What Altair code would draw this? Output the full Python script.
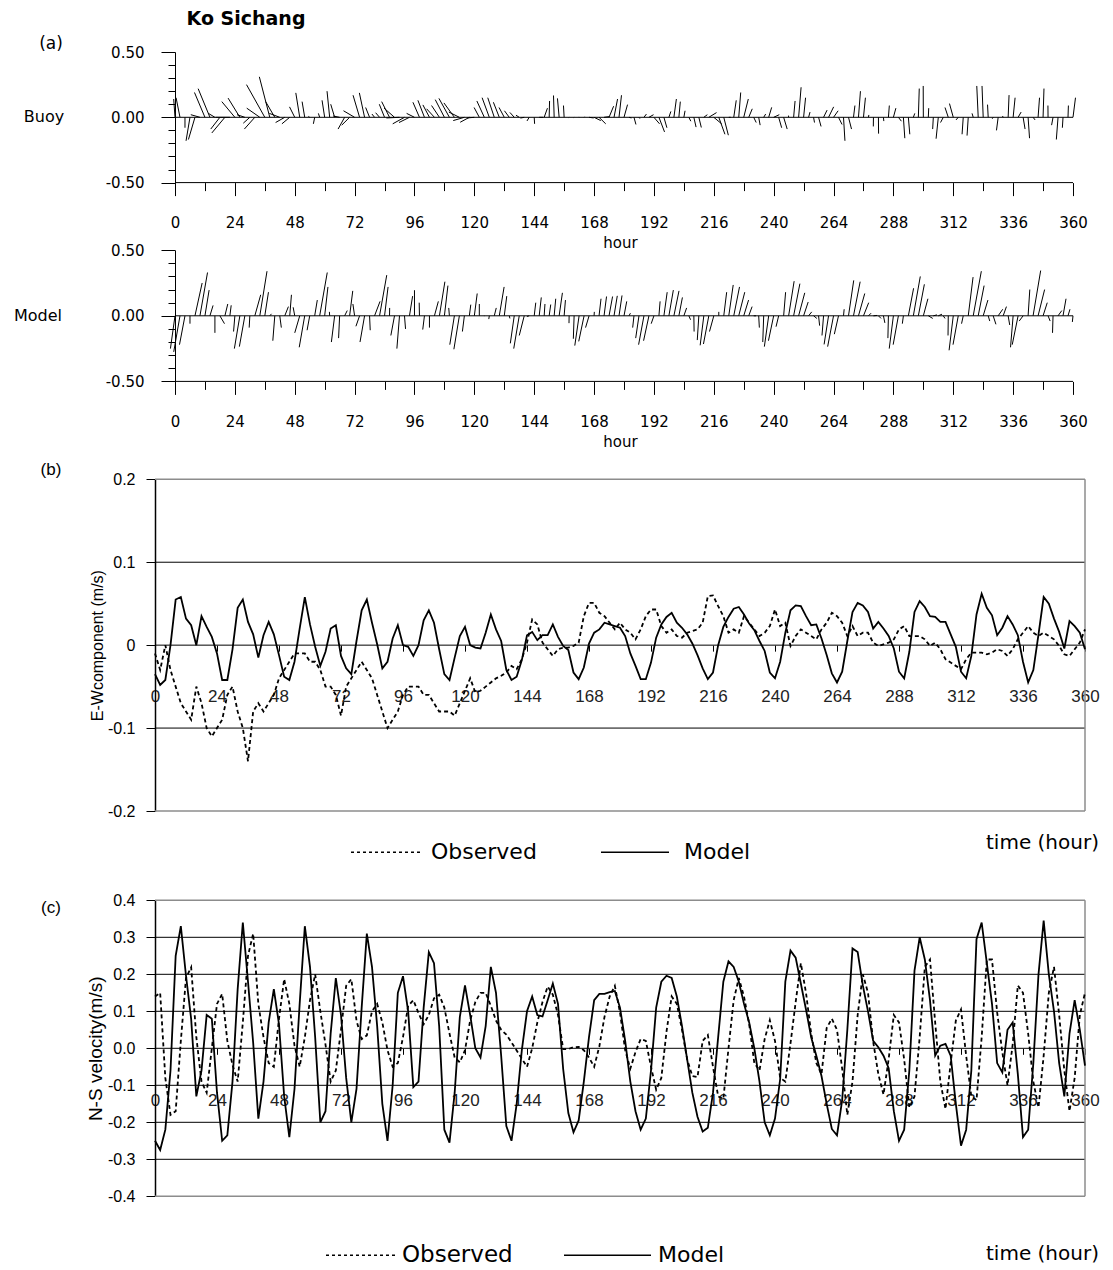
import altair as alt
import pandas as pd

# ---------------- data (2-hour steps) ----------------
hours = list(range(0, 361, 2))

mod_ew = [
    -0.035, -0.048, -0.042, 0.0, 0.055, 0.058, 0.032, 0.024, 0.0, 0.035,
    0.022, 0.01, -0.01, -0.042, -0.042, -0.005, 0.045, 0.055, 0.028, 0.013,
    -0.015, 0.012, 0.028, 0.013, -0.012, -0.038, -0.042, -0.02, 0.02, 0.058,
    0.025, -0.002, -0.025, -0.008, 0.02, 0.024, -0.013, -0.028, -0.035, 0.005,
    0.042, 0.055, 0.027, 0.001, -0.028, -0.02, 0.008, 0.024, 0.0, -0.002,
    -0.013, 0.0, 0.03, 0.042, 0.027, -0.005, -0.035, -0.042, -0.015, 0.011,
    0.022, 0.0, -0.003, -0.004, 0.015, 0.037, 0.019, 0.005, -0.03, -0.042,
    -0.038, -0.018, 0.012, 0.016, 0.006, 0.012, 0.012, 0.025, 0.01, -0.001,
    -0.006, -0.033, -0.041, -0.027, 0.002, 0.015, 0.019, 0.027, 0.025, 0.023,
    0.021, 0.011, -0.01, -0.025, -0.041, -0.041, -0.021, 0.009, 0.025, 0.034,
    0.039, 0.027, 0.021, 0.013, 0.002, -0.012, -0.028, -0.041, -0.033, 0.0,
    0.022, 0.034, 0.044, 0.046, 0.037, 0.026, 0.018, 0.005, -0.007, -0.033,
    -0.04, -0.02, 0.015, 0.042, 0.048, 0.047, 0.035, 0.024, 0.025, 0.008,
    -0.012, -0.034, -0.045, -0.032, 0.005, 0.04, 0.051, 0.048, 0.04, 0.02,
    0.028, 0.02, 0.011, -0.004, -0.032, -0.04, -0.008, 0.04, 0.053, 0.046,
    0.035, 0.034, 0.028, 0.028, 0.013, -0.002, -0.032, -0.04, -0.013, 0.037,
    0.062, 0.045, 0.036, 0.012, 0.021, 0.035, 0.025, 0.012, -0.02, -0.045,
    -0.03, 0.013, 0.058, 0.05, 0.032, 0.016, -0.004, 0.029, 0.023, 0.015,
    -0.005,
]

obs_ew = [
    -0.01, -0.03, 0.0, -0.03, -0.05, -0.07, -0.08, -0.09, -0.05, -0.07,
    -0.1, -0.11, -0.1, -0.09, -0.06, -0.05, -0.08, -0.1, -0.14, -0.08,
    -0.07, -0.08, -0.07, -0.06, -0.04, -0.03, -0.02, -0.01, -0.01, -0.01,
    -0.02, -0.02, -0.03, -0.05, -0.05, -0.06, -0.085, -0.05, -0.04, -0.03,
    -0.02, -0.03, -0.04, -0.06, -0.08, -0.1, -0.09, -0.08, -0.06, -0.05,
    -0.05, -0.05, -0.06, -0.06, -0.07, -0.08, -0.08, -0.08, -0.085, -0.07,
    -0.055, -0.04, -0.057, -0.055, -0.05, -0.045, -0.04, -0.037, -0.033, -0.025,
    -0.029, -0.017, 0.003, 0.031, 0.025, 0.003, -0.005, -0.013, -0.005, -0.003,
    -0.003, -0.001, 0.003, 0.035, 0.051, 0.051, 0.039, 0.035, 0.027, 0.019,
    0.027, 0.019, 0.015, 0.007, 0.019, 0.035, 0.043, 0.043, 0.023, 0.015,
    0.019, 0.011, 0.009, 0.015, 0.017, 0.019, 0.027, 0.059, 0.06, 0.047,
    0.035, 0.015, 0.019, 0.015, 0.035, 0.027, 0.019, 0.011, 0.015, 0.023,
    0.043, 0.023, 0.027, -0.001, 0.011, 0.019, 0.015, 0.011, 0.007, 0.019,
    0.027, 0.039, 0.035, 0.027, 0.011, 0.023, 0.011, 0.015, 0.015, 0.003,
    -0.001, 0.001, 0.003, 0.007, 0.019, 0.023, 0.011, 0.011, 0.011, 0.007,
    -0.001, 0.003, -0.005, -0.017, -0.021, -0.025, -0.029, -0.017, -0.009, -0.009,
    -0.009, -0.011, -0.009, -0.005, -0.007, -0.013, -0.005, 0.007, 0.015, 0.023,
    0.015, 0.011, 0.015, 0.011, 0.007, -0.001, -0.011, -0.013, -0.005, 0.003,
    0.019,
]

mod_ns = [
    -0.25, -0.275, -0.22, -0.06, 0.25, 0.33, 0.196, 0.079, -0.13, -0.06,
    0.09, 0.08, -0.12, -0.25, -0.235, -0.09, 0.16, 0.34, 0.18, 0.015,
    -0.19, -0.09, 0.07, 0.16, 0.065, -0.13, -0.24, -0.11, 0.12, 0.33,
    0.22, 0.03, -0.2, -0.17, 0.04, 0.19, 0.09, -0.08, -0.2, -0.11,
    0.11, 0.31, 0.22, 0.06, -0.15, -0.25, -0.1, 0.15, 0.195, 0.1,
    -0.105, -0.09, 0.11, 0.26, 0.23, 0.06, -0.22, -0.255, -0.12, 0.085,
    0.17, 0.09, 0.0, -0.025, 0.06, 0.22, 0.15, -0.02, -0.21, -0.25,
    -0.15, -0.005, 0.1, 0.14, 0.09, 0.086, 0.13, 0.175, 0.12, -0.056,
    -0.175, -0.227, -0.195, -0.09, 0.03, 0.13, 0.147, 0.147, 0.152, 0.155,
    0.11, 0.02, -0.09, -0.17, -0.22, -0.19, -0.06, 0.11, 0.18, 0.196,
    0.19, 0.14, 0.06, -0.03, -0.12, -0.185, -0.225, -0.215, -0.12, 0.03,
    0.18, 0.235, 0.22, 0.18, 0.12, 0.07, 0.0, -0.09, -0.2, -0.235,
    -0.19, -0.083, 0.18, 0.264, 0.245, 0.175, 0.105, 0.03, -0.02, -0.075,
    -0.15, -0.218, -0.235, -0.14, 0.05, 0.27, 0.26, 0.17, 0.1, 0.02,
    0.003, -0.02, -0.054, -0.17, -0.25, -0.22, -0.06, 0.21, 0.3, 0.24,
    0.13, -0.02, 0.007, 0.012, -0.02, -0.15, -0.263, -0.22, -0.06, 0.295,
    0.34, 0.23, 0.12, -0.04, -0.065, 0.05, 0.07, -0.07, -0.24, -0.22,
    -0.04, 0.2, 0.345, 0.2, 0.1, -0.04, -0.13, 0.04, 0.13, 0.05,
    -0.047,
]

obs_ns = [
    0.14, 0.15, -0.08, -0.18, -0.17, 0.02, 0.19, 0.219, 0.03, -0.09,
    -0.12, 0.0, 0.12, 0.147, 0.02, -0.045, -0.09, 0.07, 0.25, 0.31,
    0.12, 0.03, -0.04, -0.05, 0.08, 0.187, 0.12, 0.007, -0.05, 0.03,
    0.13, 0.2, 0.1, 0.01, -0.09, -0.06, 0.05, 0.169, 0.187, 0.075,
    0.025, 0.035, 0.1, 0.12, 0.07, -0.005, -0.05, -0.04, 0.03, 0.115,
    0.13, 0.095, 0.065, 0.09, 0.135, 0.145, 0.11, 0.04, -0.025, -0.038,
    -0.005, 0.075, 0.125, 0.15, 0.15, 0.115, 0.075, 0.05, 0.037, 0.016,
    -0.006, -0.028, -0.05, 0.0, 0.07, 0.125, 0.167, 0.145, 0.09, -0.002,
    -0.002, 0.003, 0.004, -0.005, -0.025, -0.05, 0.005, 0.085, 0.14, 0.169,
    0.097, -0.005, -0.055, -0.01, 0.025, 0.02, -0.05, -0.112, -0.08, 0.045,
    0.14, 0.12, 0.05, -0.03, -0.075, -0.078, 0.02, 0.036, -0.05, -0.13,
    -0.137, 0.0, 0.13, 0.19, 0.14, 0.065, -0.04, -0.06, 0.025, 0.076,
    0.02, -0.08, -0.09, 0.013, 0.125, 0.23, 0.15, 0.04, -0.04, -0.07,
    0.055, 0.08, 0.05, -0.055, -0.18, -0.09, 0.09, 0.2, 0.15, 0.018,
    -0.07, -0.125, -0.029, 0.09, 0.07, -0.03, -0.16, -0.13, 0.03, 0.22,
    0.24, 0.07, -0.09, -0.164, -0.04, 0.075, 0.105, -0.02, -0.13, -0.14,
    0.03, 0.24, 0.24, 0.097, -0.011, -0.1, 0.01, 0.17, 0.15, 0.04,
    -0.09, -0.16, -0.02, 0.15, 0.22, 0.09, -0.06, -0.17, -0.08, 0.09,
    0.15,
]

stick_hour_ticks = list(range(0, 361, 12))
line_hour_ticks = list(range(0, 361, 24))
stick_y_ticks = [-0.5, -0.4, -0.3, -0.2, -0.1, 0.0, 0.1, 0.2, 0.3, 0.4, 0.5]
ew_ticks = [-0.2, -0.1, 0.0, 0.1, 0.2]
ns_ticks = [-0.4, -0.3, -0.2, -0.1, 0.0, 0.1, 0.2, 0.3, 0.4]

df = pd.DataFrame({"hour": hours, "obs_u": obs_ew, "mod_u": mod_ew,
                   "obs_v": obs_ns, "mod_v": mod_ns})

W = 930
STICK_K = 52.4       # hours of horizontal stick length per 1 m/s (equal visual scale)
SANS_A = "DejaVu Sans"
SANS_B = "Liberation Sans"
GREY = "#8c8c8c"

one = pd.DataFrame({"a": [0]})


def text(t, px, py, size, font, weight="normal", align="center", baseline="middle"):
    return alt.Chart(one).mark_text(
        text=t, font=font, fontSize=size, fontWeight=weight, align=align,
        baseline=baseline, color="black"
    ).encode(x=alt.value(px), y=alt.value(py))


def seg(x0, x1, py, dash=None):
    kw = dict(color="black", strokeWidth=1.6)
    if dash:
        kw["strokeDash"] = dash
    return alt.Chart(one).mark_rule(**kw).encode(
        x=alt.value(x0), x2=alt.value(x1), y=alt.value(py))


def stick_panel(ucol, vcol, extra, plot_h, extras):
    H = extra + plot_h
    xs = alt.Scale(domain=[-8.02, 364.81], nice=False, zero=False)
    ys = alt.Scale(domain=[-0.5, 0.5], range=[H, extra], nice=False, zero=False)
    xaxis = alt.Axis(
        values=stick_hour_ticks,
        labelExpr="datum.value % 24 == 0 ? format(datum.value, 'd') : ''",
        tickSize={"condition": {"test": "datum.value % 24 == 0", "value": 13}, "value": 8},
        labelPadding=20, domain=False, grid=False,
        labelFont=SANS_A, labelFontSize=15, labelColor="black", tickColor="black",
        labelOverlap=False, labelFlush=False,
        title="hour", titleFont=SANS_A, titleFontSize=15, titleFontWeight="normal",
        titleColor="black", titlePadding=5,
    )
    yaxis = alt.Axis(
        values=stick_y_ticks,
        labelExpr="abs(datum.value) < 0.001 ? '0.00' : (datum.value > 0.49 ? '0.50' : (datum.value < -0.49 ? '-0.50' : ''))",
        tickSize={"condition": {"test": "abs(datum.value) > 0.49 || abs(datum.value) < 0.001", "value": 14}, "value": 7},
        offset=-20, labelPadding=17, grid=False, title=None,
        labelFont=SANS_A, labelFontSize=15, labelColor="black",
        tickColor="black", domainColor="black", labelOverlap=False,
    )
    sticks = alt.Chart(df).transform_calculate(
        tip=f"datum.hour + datum.{ucol} * {STICK_K}", zero="0"
    ).mark_rule(color="black", strokeWidth=1).encode(
        x=alt.X("hour:Q", scale=xs, axis=xaxis),
        x2="tip:Q",
        y=alt.Y("zero:Q", scale=ys, axis=yaxis),
        y2=alt.Y2(f"{vcol}:Q"),
    )
    frame = pd.DataFrame({"x0": [0, 0], "x1": [360, 360], "y0": [0.0, -0.5]})
    lines = alt.Chart(frame).mark_rule(color="black", strokeWidth=1).encode(
        x=alt.X("x0:Q", scale=xs, axis=xaxis), x2="x1:Q",
        y=alt.Y("y0:Q", scale=ys, axis=yaxis),
    )
    return alt.layer(sticks, lines, *extras).properties(width=W, height=H)


def line_panel(ocol, mcol, ymin, ymax, yticks, inner, label_expr, ytitle, title_size,
               extra, plot_h, lab_pad, extras):
    H = extra + plot_h
    xs = alt.Scale(domain=[0, 360], nice=False, zero=False)
    ys = alt.Scale(domain=[ymin, ymax], range=[H, extra], nice=False, zero=False)
    zero_y = extra + plot_h * ymax / (ymax - ymin)
    xaxis = alt.Axis(
        values=line_hour_ticks, labelExpr="format(datum.value, 'd')",
        offset=-(H - zero_y), domain=False, grid=False, tickSize=6,
        labelPadding=lab_pad, labelFont=SANS_B, labelFontSize=17,
        labelColor="#222222", tickColor="black", labelOverlap=False,
        labelFlush=False, title=None,
    )
    yaxis = alt.Axis(
        values=yticks, labelExpr=label_expr, grid=False, tickSize=9,
        labelPadding=11, labelFont=SANS_B, labelFontSize=16,
        labelColor="black", tickColor="black", domainColor="black",
        domainWidth=1.5, labelOverlap=False, labelFlush=False,
        title=ytitle, titleFont=SANS_B, titleFontSize=title_size,
        titleFontWeight="normal", titleColor="black", titlePadding=2,
    )
    grid = alt.Chart(pd.DataFrame({"g": inner})).mark_rule(
        color="black", strokeWidth=1).encode(y=alt.Y("g:Q", scale=ys, axis=yaxis))
    border = alt.Chart(pd.DataFrame({"g": [ymin, ymax]})).mark_rule(
        color=GREY, strokeWidth=1.5).encode(y=alt.Y("g:Q", scale=ys, axis=yaxis))
    right = alt.Chart(pd.DataFrame({"x": [360], "y0": [ymin], "y1": [ymax]})).mark_rule(
        color=GREY, strokeWidth=1.5).encode(
        x=alt.X("x:Q", scale=xs, axis=xaxis),
        y=alt.Y("y0:Q", scale=ys, axis=yaxis), y2="y1:Q")
    obs = alt.Chart(df).mark_line(color="black", strokeWidth=1.8, strokeDash=[4, 3]).encode(
        x=alt.X("hour:Q", scale=xs, axis=xaxis),
        y=alt.Y(f"{ocol}:Q", scale=ys, axis=yaxis))
    mod = alt.Chart(df).mark_line(color="black", strokeWidth=1.8).encode(
        x=alt.X("hour:Q", scale=xs, axis=xaxis),
        y=alt.Y(f"{mcol}:Q", scale=ys, axis=yaxis))
    return alt.layer(grid, border, right, obs, mod, *extras).properties(width=W, height=H)


buoy = stick_panel("obs_u", "obs_v", 0, 130.6, [
    text("Ko Sichang", 91, -32.7, 19, SANS_A, weight="bold"),
    text("(a)", -104, -7.7, 17, SANS_A),
    text("Buoy", -111, 65.3, 16, SANS_A),
])

model = stick_panel("mod_u", "mod_v", 67.2, 131.2, [
    text("Model", -117, 132.8, 16, SANS_A),
])

ew_expr = "abs(datum.value) < 0.001 ? '0' : (datum.value < 0 ? '-' : '') + format(abs(datum.value), '.1f')"
ns_expr = "(datum.value < -0.001 ? '-' : '') + format(abs(datum.value), '.1f')"

panel_b = line_panel("obs_u", "mod_u", -0.2, 0.2, ew_ticks, [0.1, 0.0, -0.1], ew_expr,
                     "E-Wcomponent (m/s)", 16, 97.3, 331.7, 37, [
    text("(b)", -104, 88.3, 17, SANS_B),
    seg(196, 266, 470.3, dash=[3, 3]),
    text("Observed", 276, 470.3, 22, SANS_A, align="left"),
    seg(446, 514, 470.3),
    text("Model", 529, 470.3, 22, SANS_A, align="left"),
    text("time (hour)", 831, 461.3, 20, SANS_A, align="left"),
])

panel_c = line_panel("obs_v", "mod_v", -0.4, 0.4, ns_ticks,
                     [0.3, 0.2, 0.1, 0.0, -0.1, -0.2, -0.3], ns_expr,
                     "N-S velocity(m/s)", 19, 89.3, 296.0, 38, [
    text("(c)", -104, 97.3, 17, SANS_B),
    seg(171, 241, 444.3, dash=[3, 3]),
    text("Observed", 247, 444.3, 23, SANS_A, align="left"),
    seg(409, 496, 444.3),
    text("Model", 503, 444.3, 22, SANS_A, align="left"),
    text("time (hour)", 831, 443.3, 20, SANS_A, align="left"),
])

chart = alt.vconcat(buoy, model, panel_b, panel_c, spacing=0, bounds="flush").properties(
    padding={"left": 5, "top": 2, "right": 0, "bottom": 5},
    background="white",
).configure_view(stroke=None)

chart.save("out.html", embed_options={"renderer": "svg", "actions": False})
